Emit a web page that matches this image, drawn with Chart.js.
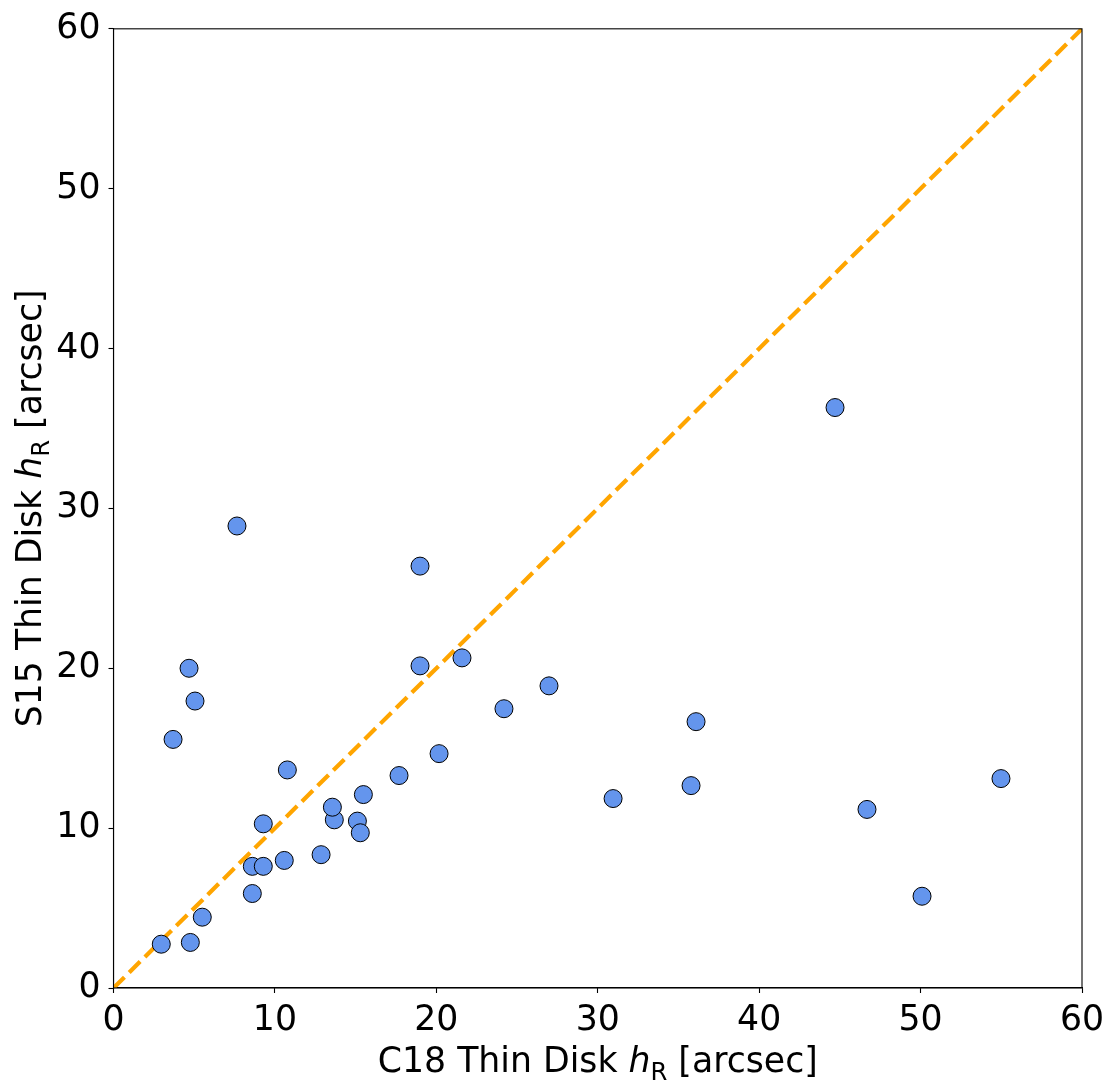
<!DOCTYPE html>
<html>
<head>
<meta charset="utf-8">
<script src="https://cdn.jsdelivr.net/npm/chart.js@4.4.1/dist/chart.umd.min.js"></script>
<style>
  html, body { margin: 0; padding: 0; background: #fff; }
  #wrap { width: 1116px; height: 1091px; }
</style>
</head>
<body>
<div id="wrap"><canvas id="chart" width="1116" height="1091"></canvas></div>
<script>
// Data
var c18Values = [2.96, 4.76, 5.50, 3.69, 4.68, 5.05, 7.65, 8.60, 8.60, 9.28, 9.28,
  10.58, 10.77, 12.86, 13.68, 13.56, 15.11, 15.29, 15.48, 17.69, 18.99, 18.99,
  20.17, 21.59, 24.19, 26.98, 30.95, 35.78, 36.09, 44.70, 46.68, 50.09, 54.98];
var s15Values = [2.74, 2.85, 4.43, 15.55, 20.0, 17.95, 28.9, 5.91, 7.61, 7.61, 10.27,
  7.98, 13.64, 8.34, 10.52, 11.31, 10.44, 9.71, 12.10, 13.29, 26.39, 20.15,
  14.66, 20.65, 17.47, 18.90, 11.85, 12.66, 16.66, 36.31, 11.17, 5.74, 13.10];

// one-to-one line
var lineX = [0, 60];
var lineY = [0, 60];

// tick labels
var tickValues = [0, 10, 20, 30, 40, 50, 60];

var fontFamily = '"DejaVu Sans", sans-serif';
var fontSize = 34.7;

var points = c18Values.map(function (x, i) { return { x: x, y: s15Values[i] }; });
var linePoints = lineX.map(function (x, i) { return { x: x, y: lineY[i] }; });

function setTicks(scale) {
  scale.ticks = tickValues.map(function (v) { return { value: v }; });
}

// draws a label like "C18 Thin Disk h_R [arcsec]" with italic h and subscript R
function drawLabel(ctx, prefix, cx, baseline, rotate) {
  var parts = [
    { text: prefix + ' Thin Disk ', font: fontSize + 'px ' + fontFamily, dy: 0 },
    { text: 'h', font: 'oblique ' + fontSize + 'px ' + fontFamily, dy: 0 },
    { text: 'R', font: (fontSize * 0.7) + 'px ' + fontFamily, dy: 8 },
    { text: ' [arcsec]', font: fontSize + 'px ' + fontFamily, dy: 0 }
  ];
  ctx.save();
  var total = 0;
  parts.forEach(function (p) {
    ctx.font = p.font;
    p.w = ctx.measureText(p.text).width;
    total += p.w;
  });
  if (rotate) {
    ctx.translate(baseline, cx);
    ctx.rotate(-Math.PI / 2);
  } else {
    ctx.translate(cx, baseline);
  }
  ctx.fillStyle = '#000';
  ctx.textBaseline = 'alphabetic';
  ctx.textAlign = 'left';
  var x = -total / 2;
  parts.forEach(function (p) {
    ctx.font = p.font;
    ctx.fillText(p.text, x, p.dy);
    x += p.w;
  });
  ctx.restore();
}

var framePlugin = {
  id: 'frame',
  afterDraw: function (chart) {
    var a = chart.chartArea;
    var ctx = chart.ctx;
    ctx.save();
    ctx.strokeStyle = '#000';
    ctx.lineWidth = 1.1;
    ctx.strokeRect(a.left, a.top, a.right - a.left, a.bottom - a.top);
    ctx.restore();
    drawLabel(ctx, 'C18', (a.left + a.right) / 2, 1072, false);
    drawLabel(ctx, 'S15', (a.top + a.bottom) / 2, 41, true);
  }
};

var config = {
  type: 'scatter',
  data: {
    datasets: [
      {
        data: points,
        backgroundColor: '#6495ED',
        borderColor: '#000',
        borderWidth: 1,
        pointRadius: 9,
        pointHoverRadius: 9
      },
      {
        data: linePoints,
        showLine: true,
        borderColor: '#FFA500',
        borderWidth: 4.2,
        borderDash: [15.4, 6.7],
        pointRadius: 0,
        pointHoverRadius: 0,
        fill: false
      }
    ]
  },
  options: {
    responsive: false,
    devicePixelRatio: 1,
    animation: false,
    layout: { padding: { left: 0, right: 34, top: 26, bottom: 0 } },
    plugins: {
      legend: { display: false },
      tooltip: { enabled: false },
      title: { display: false }
    },
    scales: {
      x: {
        type: 'linear',
        min: 0,
        max: 60,
        afterBuildTicks: setTicks,
        afterFit: function (scale) { scale.height = 103; },
        grid: { drawOnChartArea: false, drawTicks: true, tickLength: 5, tickColor: '#000', tickWidth: 1.1 },
        border: { display: true, color: '#000', width: 1.1 },
        ticks: { color: '#000', padding: 7, maxRotation: 0, font: { family: fontFamily, size: fontSize } }
      },
      y: {
        type: 'linear',
        min: 0,
        max: 60,
        afterBuildTicks: setTicks,
        afterFit: function (scale) { scale.width = 113.5; },
        grid: { drawOnChartArea: false, drawTicks: true, tickLength: 5, tickColor: '#000', tickWidth: 1.1 },
        border: { display: true, color: '#000', width: 1.1 },
        ticks: { color: '#000', padding: 8, font: { family: fontFamily, size: fontSize } }
      }
    }
  },
  plugins: [framePlugin]
};

var myChart = new Chart(document.getElementById('chart'), config);
</script>
</body>
</html>
